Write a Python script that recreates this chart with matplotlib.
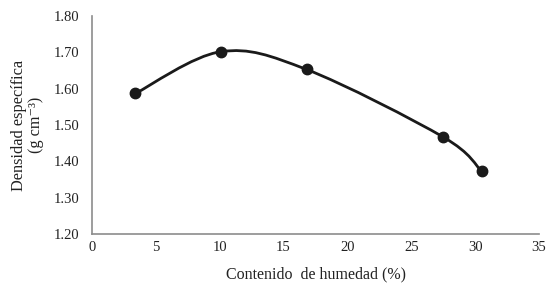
import numpy as np
import matplotlib
matplotlib.use('Agg')
import matplotlib.pyplot as plt
from matplotlib.path import Path
from matplotlib.patches import PathPatch

plt.rcParams['font.family'] = ['Liberation Serif', 'DejaVu Serif']

# moisture content (%) vs specific density (g cm-3)
humedad = [3.4, 10.1, 16.8, 27.5, 30.5]
densidad = [1.587, 1.702, 1.653, 1.467, 1.373]
xticks = [0, 5, 10, 15, 20, 25, 30, 35]
yticks = [1.20, 1.30, 1.40, 1.50, 1.60, 1.70, 1.80]


def smooth_path(x, y):
    # Excel-like smoothed line: cubic bezier with catmull-rom control points
    p = np.column_stack([x, y])
    verts = [p[0]]
    codes = [Path.MOVETO]
    n = len(p)
    for i in range(n - 1):
        p0 = p[i - 1] if i > 0 else p[i]
        p3 = p[i + 2] if i + 2 < n else p[i + 1]
        c1 = p[i] + (p[i + 1] - p0) / 6.0
        c2 = p[i + 1] - (p3 - p[i]) / 6.0
        verts += [c1, c2, p[i + 1]]
        codes += [Path.CURVE4] * 3
    return Path(verts, codes)


fig = plt.figure(figsize=(5.5, 3.03), dpi=100)
ax = fig.add_axes([0.1673, 0.2277, 0.8127, 0.7193])

col = '#1a1a1a'
ax.add_patch(PathPatch(smooth_path(humedad, densidad), fill=False,
                       edgecolor=col, lw=2.0, capstyle='round', zorder=2))
ax.plot(humedad, densidad, 'o', color=col, ms=7.5, zorder=3)

ax.set_xlim(0, 35)
ax.set_ylim(1.20, 1.80)
ax.set_xticks(xticks)
ax.set_yticks(yticks)
ax.set_yticklabels(['%.2f' % v for v in yticks])

for s in ['top', 'right']:
    ax.spines[s].set_visible(False)
for s in ['left', 'bottom']:
    ax.spines[s].set_color('#8c8c8c')
    ax.spines[s].set_linewidth(1.2)

ax.tick_params(axis='both', length=0, labelsize=10.5, colors='#222222')
ax.tick_params(axis='y', pad=9)
ax.tick_params(axis='x', pad=5)

ax.set_xlabel('Contenido  de humedad (%)', fontsize=11.5, color='#222222', labelpad=9)
ax.set_ylabel('Densidad específica\n(g cm⁻³)', fontsize=11.7, color='#222222',
              labelpad=7, linespacing=1.05)

fig.savefig('out.png', dpi=100)
